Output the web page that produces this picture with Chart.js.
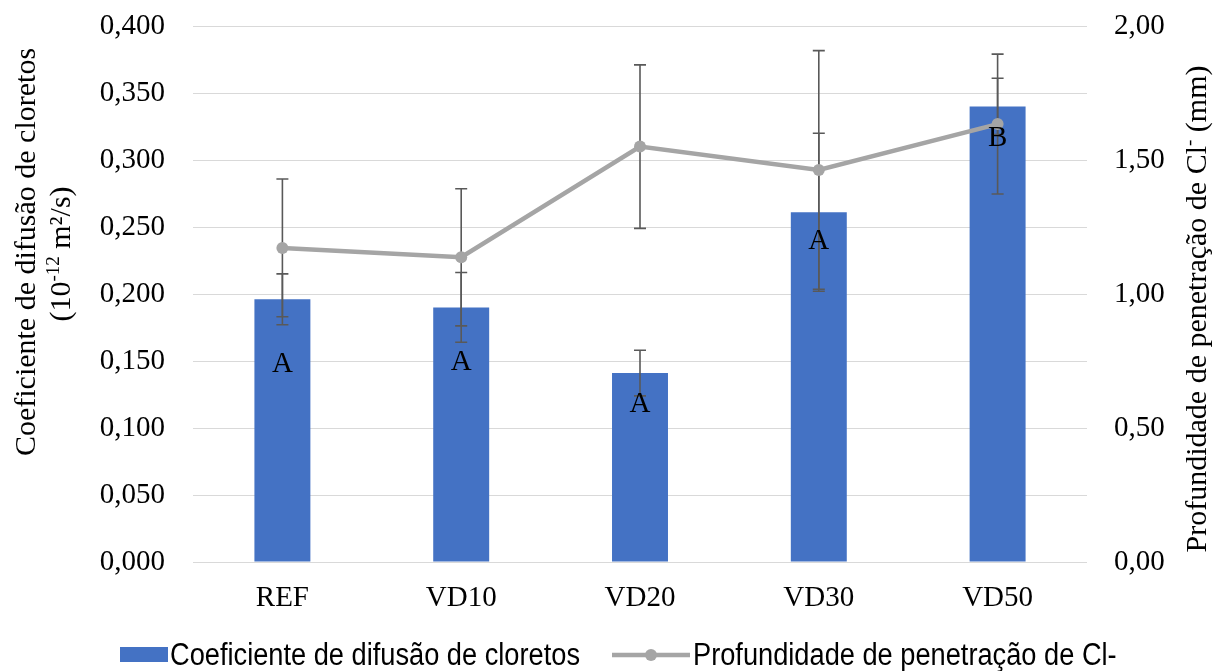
<!DOCTYPE html>
<html lang="pt">
<head>
<meta charset="utf-8">
<title>Coeficiente de difusão e profundidade de penetração de cloretos</title>
<script src="https://cdn.jsdelivr.net/npm/chart.js@4.4.1/dist/chart.umd.min.js"></script>
<style>
  html, body { margin: 0; padding: 0; background: #ffffff; }
  #wrap { width: 1221px; height: 671px; }
</style>
</head>
<body>
<div id="wrap"><canvas id="chart" width="1221" height="671"></canvas></div>
<script>
// Mixtures
const categories = ['REF', 'VD10', 'VD20', 'VD30', 'VD50'];

// Chloride diffusion coefficient (10^-12 m²/s) and its standard deviation
const diffusionCoef = [0.196, 0.190, 0.141, 0.261, 0.340];
const diffusionErr  = [0.019, 0.026, 0.017, 0.059, 0.021];

// Chloride penetration depth (mm) and its standard deviation
const penetrationDepth = [1.172, 1.137, 1.550, 1.463, 1.634];
const penetrationErr   = [0.257, 0.256, 0.305, 0.445, 0.261];

// Statistical grouping letters and the value (left axis) where each is written
const groupLetters = ['A', 'A', 'A', 'A', 'B'];
const letterAnchor = [0.148, 0.150, 0.118, 0.240, 0.317];

// Axis ranges and tick steps
const leftAxisRange  = [0, 0.4, 0.05];
const rightAxisRange = [0, 2, 0.5];

const SERIF = "'Liberation Serif', 'Times New Roman', serif";
const SANS = "'Liberation Sans Narrow', 'Arial Narrow', 'Liberation Sans', Arial, sans-serif";
const BAR_COLOR = '#4472C4';
const LINE_COLOR = '#A5A5A5';
const ERR_COLOR = '#595959';
const TEXT_COLOR = '#000000';

const commaFmt = (digits) => (v) => Number(v).toFixed(digits).replace('.', ',');

// Draws a run of [text, isSuperscript] pieces centred on the origin
function drawRichText(ctx, pieces, size) {
  const supSize = Math.round(size * 0.62);
  const widths = pieces.map(([t, sup]) => {
    ctx.font = (sup ? supSize : size) + 'px ' + SERIF;
    return ctx.measureText(t).width;
  });
  const total = widths.reduce((a, b) => a + b, 0);
  let x = -total / 2;
  ctx.textAlign = 'left';
  ctx.textBaseline = 'alphabetic';
  pieces.forEach(([t, sup], i) => {
    ctx.font = (sup ? supSize : size) + 'px ' + SERIF;
    ctx.fillText(t, x, sup ? size * 0.34 - size * 0.38 : size * 0.34);
    x += widths[i];
  });
}

const errorBarsPlugin = {
  id: 'errorBars',
  drawBars(chart, meta, values, errs, yScale) {
    const ctx = chart.ctx;
    ctx.save();
    ctx.strokeStyle = ERR_COLOR;
    ctx.lineWidth = 1.6;
    const cap = 6;
    meta.data.forEach((el, i) => {
      const x = el.x;
      const yTop = yScale.getPixelForValue(values[i] + errs[i]);
      const yBot = yScale.getPixelForValue(values[i] - errs[i]);
      ctx.beginPath();
      ctx.moveTo(x, yTop); ctx.lineTo(x, yBot);
      ctx.moveTo(x - cap, yTop); ctx.lineTo(x + cap, yTop);
      ctx.moveTo(x - cap, yBot); ctx.lineTo(x + cap, yBot);
      ctx.stroke();
    });
    ctx.restore();
  },
  afterDatasetDraw(chart, args) {
    const ds = chart.data.datasets[args.index];
    if (ds.yAxisID === 'y') {
      this.drawBars(chart, args.meta, diffusionCoef, diffusionErr, chart.scales.y);
    }
  },
  beforeDatasetDraw(chart, args) {
    const ds = chart.data.datasets[args.index];
    if (ds.yAxisID === 'y1') {
      this.drawBars(chart, args.meta, penetrationDepth, penetrationErr, chart.scales.y1);
    }
  },
  afterDatasetsDraw(chart) {
    // Grouping letters
    const ctx = chart.ctx;
    const meta = chart.getDatasetMeta(0);
    ctx.save();
    ctx.fillStyle = TEXT_COLOR;
    ctx.font = '29px ' + SERIF;
    ctx.textAlign = 'center';
    ctx.textBaseline = 'middle';
    meta.data.forEach((el, i) => {
      ctx.fillText(groupLetters[i], el.x, chart.scales.y.getPixelForValue(letterAnchor[i]) + 1);
    });
    ctx.restore();
  }
};

const titlesPlugin = {
  id: 'axisTitles',
  afterDraw(chart) {
    const ctx = chart.ctx;
    ctx.save();
    ctx.fillStyle = TEXT_COLOR;
    // Left axis title, two lines
    ctx.save();
    ctx.translate(25, 252);
    ctx.rotate(-Math.PI / 2);
    drawRichText(ctx, [['Coeficiente de difusão de cloretos', false]], 30);
    ctx.restore();
    ctx.save();
    ctx.translate(60, 254);
    ctx.rotate(-Math.PI / 2);
    drawRichText(ctx, [['(10', false], ['-12', true], [' m²/s)', false]], 30);
    ctx.restore();
    // Right axis title
    ctx.save();
    ctx.translate(1196, 309);
    ctx.rotate(-Math.PI / 2);
    drawRichText(ctx, [['Profundidade de penetração de Cl', false], ['-', true], [' (mm)', false]], 30);
    ctx.restore();
    ctx.restore();
  }
};

// Condensed legend text: squeeze the first label to its run width, reuse the ratio
function legendText(ctx, text, x, y, squeeze) {
  ctx.save();
  ctx.translate(x, y);
  ctx.scale(squeeze, 1);
  ctx.fillText(text, 0, 0);
  ctx.restore();
}

const legendPlugin = {
  id: 'bottomLegend',
  afterDraw(chart) {
    const ctx = chart.ctx;
    const y = 655;
    const labels = chart.data.datasets.map(d => d.label);
    ctx.save();
    ctx.font = '31px ' + SANS;
    ctx.textBaseline = 'middle';
    ctx.textAlign = 'left';
    const squeeze = Math.min(1, 410 / ctx.measureText(labels[0]).width);
    // Bar entry
    ctx.fillStyle = BAR_COLOR;
    ctx.fillRect(120, y - 8, 48, 15);
    ctx.fillStyle = TEXT_COLOR;
    legendText(ctx, labels[0], 170, y + 1, squeeze);
    // Line entry
    ctx.strokeStyle = LINE_COLOR;
    ctx.lineWidth = 4.5;
    ctx.beginPath();
    ctx.moveTo(612, y); ctx.lineTo(690, y);
    ctx.stroke();
    ctx.fillStyle = LINE_COLOR;
    ctx.beginPath();
    ctx.arc(651, y, 6, 0, Math.PI * 2);
    ctx.fill();
    ctx.fillStyle = TEXT_COLOR;
    legendText(ctx, labels[1], 693, y + 1, squeeze);
    ctx.restore();
  }
};

new Chart(document.getElementById('chart'), {
  data: {
    labels: categories,
    datasets: [
      {
        type: 'bar',
        label: 'Coeficiente de difusão de cloretos',
        data: diffusionCoef,
        yAxisID: 'y',
        backgroundColor: BAR_COLOR,
        borderWidth: 0,
        barPercentage: 0.313,
        categoryPercentage: 1,
        order: 1
      },
      {
        type: 'line',
        label: 'Profundidade de penetração de Cl-',
        data: penetrationDepth,
        yAxisID: 'y1',
        borderColor: LINE_COLOR,
        backgroundColor: LINE_COLOR,
        borderWidth: 4.5,
        pointRadius: 6,
        pointHoverRadius: 6,
        pointBorderWidth: 0,
        tension: 0,
        order: 0
      }
    ]
  },
  options: {
    responsive: false,
    animation: false,
    events: [],
    layout: { padding: { top: 26, left: 0, right: 0, bottom: 0 } },
    plugins: {
      legend: { display: false },
      tooltip: { enabled: false },
      title: { display: false }
    },
    scales: {
      x: {
        type: 'category',
        offset: true,
        grid: { display: false, drawTicks: false },
        border: { display: false },
        ticks: {
          font: { family: SERIF, size: 29 },
          color: TEXT_COLOR,
          padding: 19,
          maxRotation: 0
        },
        afterFit: (s) => { s.height = 109; }
      },
      y: {
        position: 'left',
        min: leftAxisRange[0],
        max: leftAxisRange[1],
        grid: { color: '#D9D9D9', lineWidth: 1, drawTicks: true, tickLength: 28, tickColor: 'rgba(0,0,0,0)' },
        border: { display: false },
        ticks: {
          stepSize: leftAxisRange[2],
          callback: commaFmt(3),
          font: { family: SERIF, size: 29 },
          color: TEXT_COLOR,
          padding: 0
        },
        afterFit: (s) => { s.width = 193; }
      },
      y1: {
        position: 'right',
        min: rightAxisRange[0],
        max: rightAxisRange[1],
        grid: { display: false, drawTicks: true, tickLength: 27, tickColor: 'rgba(0,0,0,0)' },
        border: { display: false },
        ticks: {
          stepSize: rightAxisRange[2],
          callback: commaFmt(2),
          font: { family: SERIF, size: 29 },
          color: TEXT_COLOR,
          padding: 0
        },
        afterFit: (s) => { s.width = 134; }
      }
    }
  },
  plugins: [errorBarsPlugin, titlesPlugin, legendPlugin]
});
</script>
</body>
</html>
